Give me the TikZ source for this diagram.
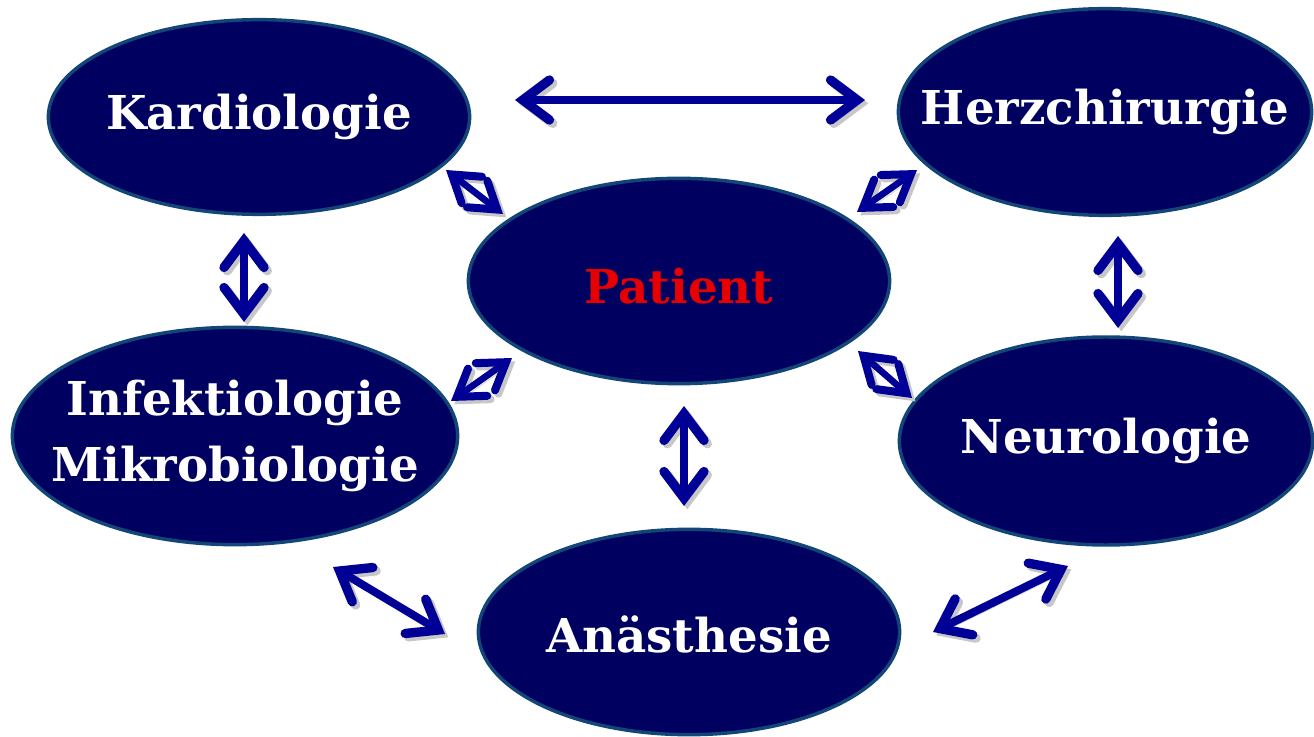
\documentclass[tikz,border=0pt]{standalone}
\usepackage{fontspec}
\setmainfont{DejaVu Serif}
\usetikzlibrary{arrows.meta,shapes.geometric}
\definecolor{ovalfill}{RGB}{0,0,96}
\definecolor{ovalrand}{RGB}{18,70,120}
\definecolor{pfeilblau}{RGB}{0,0,150}
\definecolor{patrot}{RGB}{230,0,0}

\begin{document}
\begin{tikzpicture}[line cap=round,line join=round,x=0.75pt,y=-0.75pt,
  oval/.style={ellipse,fill=ovalfill,draw=ovalrand,line width=2.6pt,inner sep=0pt},
  ovaltext/.style={text=white,font=\fontsize{35}{50}\selectfont\bfseries,align=center},
  spitze/.tip={Straight Barb[length=20pt,width=30pt,line width=7pt,line cap=round,line join=miter]},
  kspitze/.tip={Straight Barb[length=19pt,width=25pt,line width=6pt,line cap=round,line join=miter]},
  schatten/.style={preaction={draw=black!22,transform canvas={shift={(2.5pt,-2.5pt)}}}},
  pfeil/.style={line width=6pt,draw=pfeilblau,spitze-spitze,schatten},
  kurzpfeil/.style={line width=5pt,draw=pfeilblau,kspitze-kspitze,schatten}]
\useasboundingbox (0,0) rectangle (1314,737);
\node[oval,minimum width=316pt,minimum height=146pt,
  label={[ovaltext]center:Kardiologie}] (kardio) at (259,117) {};
\node[oval,minimum width=310pt,minimum height=155pt,
  label={[ovaltext]center:Herzchirurgie}] (herz) at (1105,112) {};
\node[oval,minimum width=316pt,minimum height=154pt,
  label={[ovaltext,text=patrot,yshift=-4pt]center:Patient}] (patient) at (679,281) {};
\node[oval,minimum width=334pt,minimum height=163pt,
  label={[ovaltext]center:Infektiologie\\Mikrobiologie}] (infekt) at (235,436) {};
\node[oval,minimum width=310pt,minimum height=156pt,
  label={[ovaltext]center:Neurologie}] (neuro) at (1106,441) {};
\node[oval,minimum width=316pt,minimum height=154pt,
  label={[ovaltext,yshift=-2pt]center:Anästhesie}] (anae) at (689,632) {};
\coordinate (kh1) at (515,100);  \coordinate (kh2) at (865,100);
\coordinate (ki1) at (244,233);  \coordinate (ki2) at (244,322);
\coordinate (hn1) at (1118,236); \coordinate (hn2) at (1118,328);
\coordinate (pa1) at (684,406);  \coordinate (pa2) at (684,506);
\coordinate (ia1) at (333,567);  \coordinate (ia2) at (445,634);
\coordinate (na1) at (933,632);  \coordinate (na2) at (1068,566);
\coordinate (kp1) at (446,170);  \coordinate (kp2) at (503,214);
\coordinate (hp1) at (917,170);  \coordinate (hp2) at (857,212);
\coordinate (ip1) at (451,401);  \coordinate (ip2) at (512,358);
\coordinate (np1) at (912,398);  \coordinate (np2) at (858,351);
\draw[pfeil] (kh1) -- (kh2);
\draw[pfeil] (ki1) -- (ki2);
\draw[pfeil] (hn1) -- (hn2);
\draw[pfeil] (pa1) -- (pa2);
\draw[pfeil] (ia1) -- (ia2);
\draw[pfeil] (na1) -- (na2);
\draw[kurzpfeil] (kp1) -- (kp2);
\draw[kurzpfeil] (hp1) -- (hp2);
\draw[kurzpfeil] (ip1) -- (ip2);
\draw[kurzpfeil] (np1) -- (np2);
\end{tikzpicture}
\end{document}
